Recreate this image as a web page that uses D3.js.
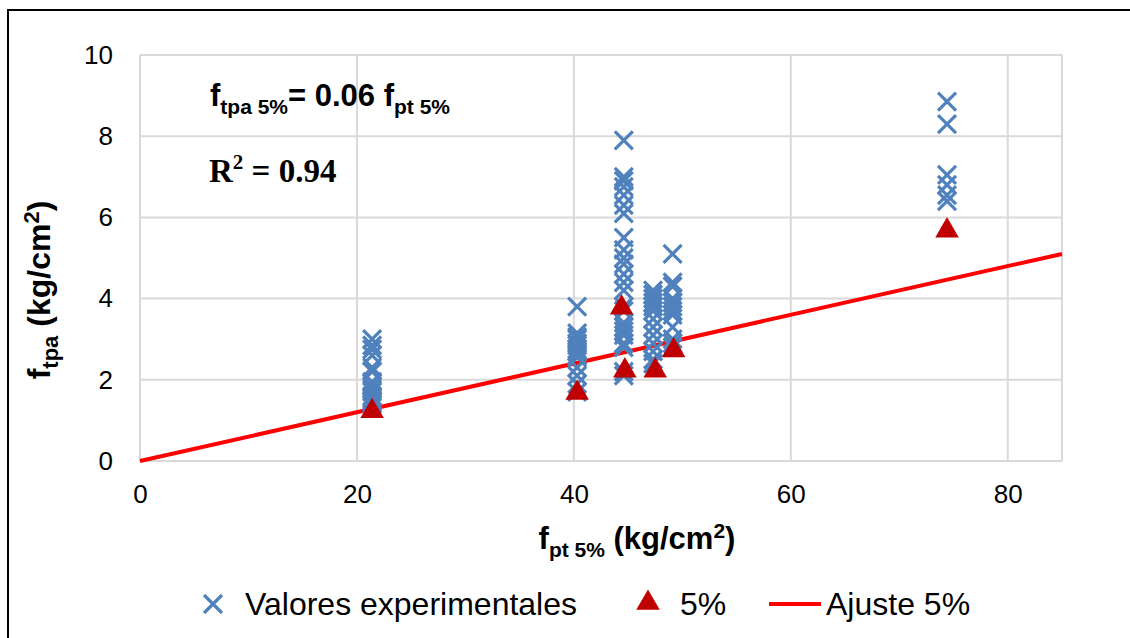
<!DOCTYPE html>
<html>
<head>
<meta charset="utf-8">
<script src="https://cdn.jsdelivr.net/npm/d3@7"></script>
<style>
  body { margin: 0; background: #fff; }
  svg { display: block; font-family: "Liberation Sans", Arial, sans-serif; }
  .grid line { stroke: #d9d9d9; stroke-width: 2; }
  .tick text { fill: #000; }
</style>
</head>
<body>
<div id="chart"></div>
<script>
// x position of each group of experimental values (f_pt 5%)
var expX = [21.4, 40.3, 44.6, 47.3, 49.1, 74.4];
// f_tpa values, one list per group
var expY = [
  [3.0, 2.85, 2.75, 2.6, 2.3, 2.2, 1.95, 1.85, 1.75, 1.7, 1.6, 1.55, 1.5, 1.45, 1.4],
  [3.8, 3.15, 3.05, 3.0, 2.9, 2.85, 2.75, 2.7, 2.6, 2.55, 2.3, 2.1, 1.9, 1.7],
  [7.9, 7.0, 6.9, 6.75, 6.55, 6.3, 6.1, 5.5, 5.2, 5.0, 4.85, 4.6, 4.4, 4.2, 3.8, 3.7, 3.4, 3.3, 3.2, 3.1, 2.9, 2.8, 2.2, 2.1],
  [4.2, 4.1, 4.0, 3.9, 3.8, 3.7, 3.5, 3.3, 3.1, 2.9, 2.7, 2.5, 2.4],
  [5.1, 4.4, 4.3, 4.0, 3.9, 3.8, 3.7, 3.6, 3.3, 3.0, 2.9, 2.8],
  [8.85, 8.3, 7.05, 6.8, 6.55, 6.4]
];
// 5% characteristic values
var pctX = [21.4, 40.3, 44.4, 44.7, 47.5, 49.2, 74.4];
var pctY = [1.2, 1.65, 3.75, 2.2, 2.2, 2.7, 5.65];
// fitted line f_tpa = 0.06 f_pt
var fitX = [0, 85];
var fitY = [0, 5.1];

var xTicks = [0, 20, 40, 60, 80];
var yTicks = [0, 2, 4, 6, 8, 10];
var legendLabels = ["Valores experimentales", "5%", "Ajuste 5%"];

var W = 1130, H = 638;
var margin = {top: 55, left: 140, right: 68, bottom: 177};

var svg = d3.select("#chart").append("svg")
    .attr("width", W)
    .attr("height", H);

// outer frame
svg.append("rect")
    .attr("x", 8).attr("y", 10)
    .attr("width", W + 20).attr("height", H + 20)
    .attr("fill", "none")
    .attr("stroke", "#000")
    .attr("stroke-width", 2);

var x = d3.scaleLinear().domain([0, 85]).range([margin.left, W - margin.right]);
var y = d3.scaleLinear().domain([0, 10]).range([H - margin.bottom, margin.top]);

// grid
var grid = svg.append("g").attr("class", "grid");
grid.selectAll(".hg").data(yTicks).enter().append("line")
    .attr("x1", x(0)).attr("x2", x(85))
    .attr("y1", function(d) { return y(d); })
    .attr("y2", function(d) { return y(d); });
grid.selectAll(".vg").data(xTicks.concat([85])).enter().append("line")
    .attr("y1", y(0)).attr("y2", y(10))
    .attr("x1", function(d) { return x(d); })
    .attr("x2", function(d) { return x(d); });

// axes (labels only, lines come from the grid)
var yAxis = d3.axisLeft(y).tickValues(yTicks).tickSize(0).tickPadding(27);
var xAxis = d3.axisBottom(x).tickValues(xTicks).tickSize(0).tickPadding(24);

svg.append("g")
    .attr("transform", "translate(" + x(0) + ",0)")
    .call(yAxis)
    .call(function(g) { g.select(".domain").remove(); })
    .selectAll("text").attr("font-size", 26).attr("font-family", "Liberation Sans, Arial, sans-serif");

svg.append("g")
    .attr("transform", "translate(0," + y(0) + ")")
    .call(xAxis)
    .call(function(g) { g.select(".domain").remove(); })
    .selectAll("text").attr("font-size", 26).attr("font-family", "Liberation Sans, Arial, sans-serif");

// fit line
var line = d3.line()
    .x(function(d) { return x(d[0]); })
    .y(function(d) { return y(d[1]); });

svg.append("path")
    .datum(fitX.map(function(v, i) { return [v, fitY[i]]; }))
    .attr("d", line)
    .attr("fill", "none")
    .attr("stroke", "#ff0000")
    .attr("stroke-width", 4);

// experimental points as crosses
var blue = "#4f81bd";
var s = 9;
function cross(sel) {
  sel.append("path")
    .attr("d", "M" + (-s) + "," + (-s) + "L" + s + "," + s + "M" + (-s) + "," + s + "L" + s + "," + (-s))
    .attr("stroke", blue)
    .attr("stroke-width", 3.2)
    .attr("fill", "none");
}

var pts = [];
expX.forEach(function(xv, i) {
  expY[i].forEach(function(yv) { pts.push([xv, yv]); });
});

svg.append("g").selectAll("g").data(pts).enter().append("g")
    .attr("transform", function(d) { return "translate(" + x(d[0]) + "," + y(d[1]) + ")"; })
    .call(cross);

// 5% triangles
var tri = d3.symbol().type(d3.symbolTriangle).size(240);
svg.append("g").selectAll("path").data(pctX).enter().append("path")
    .attr("d", tri)
    .attr("transform", function(d, i) { return "translate(" + x(d) + "," + (y(pctY[i]) - 1) + ")"; })
    .attr("fill", "#c00000");

// equation annotation
var eq = svg.append("text")
    .attr("x", 210).attr("y", 106)
    .attr("font-weight", "bold")
    .attr("font-size", 31);
eq.append("tspan").text("f");
eq.append("tspan").attr("font-size", 21).attr("dy", 8).text("tpa 5%");
eq.append("tspan").attr("dy", -8).text("= 0.06 f");
eq.append("tspan").attr("font-size", 21).attr("dy", 8).text("pt 5%");

var r2 = svg.append("text")
    .attr("x", 209).attr("y", 182)
    .attr("font-family", "Liberation Serif, serif")
    .attr("font-weight", "bold")
    .attr("font-size", 33);
r2.append("tspan").text("R");
r2.append("tspan").attr("font-size", 21).attr("dy", -13).text("2");
r2.append("tspan").attr("dy", 13).text(" = 0.94");

// x axis title
var xt = svg.append("text")
    .attr("x", 637).attr("y", 549)
    .attr("text-anchor", "middle")
    .attr("font-weight", "bold")
    .attr("font-size", 31);
xt.append("tspan").text("f");
xt.append("tspan").attr("font-size", 21).attr("dy", 8).text("pt 5%");
xt.append("tspan").attr("dy", -8).text(" (kg/cm");
xt.append("tspan").attr("font-size", 21).attr("dy", -11).text("2");
xt.append("tspan").attr("dy", 11).text(")");

// y axis title
var yt = svg.append("text")
    .attr("transform", "translate(50," + 290 + ") rotate(-90)")
    .attr("text-anchor", "middle")
    .attr("font-weight", "bold")
    .attr("font-size", 32);
yt.append("tspan").text("f");
yt.append("tspan").attr("font-size", 22).attr("dy", 8).text("tpa");
yt.append("tspan").attr("dy", -8).text(" (kg/cm");
yt.append("tspan").attr("font-size", 22).attr("dy", -11).text("2");
yt.append("tspan").attr("dy", 11).text(")");

// legend
var ly = 604;
var lg = svg.append("g");
lg.append("g").attr("transform", "translate(213," + ly + ")").call(cross);
lg.append("path").attr("d", tri).attr("transform", "translate(648," + (ly - 1) + ")").attr("fill", "#c00000");
lg.append("line").attr("x1", 769).attr("x2", 821).attr("y1", ly).attr("y2", ly)
    .attr("stroke", "#ff0000").attr("stroke-width", 4);
var lx = [245, 680, 826];
lg.selectAll("text").data(legendLabels).enter().append("text")
    .attr("x", function(d, i) { return lx[i]; })
    .attr("y", ly + 11)
    .attr("font-size", 32)
    .text(function(d) { return d; });
</script>
</body>
</html>
